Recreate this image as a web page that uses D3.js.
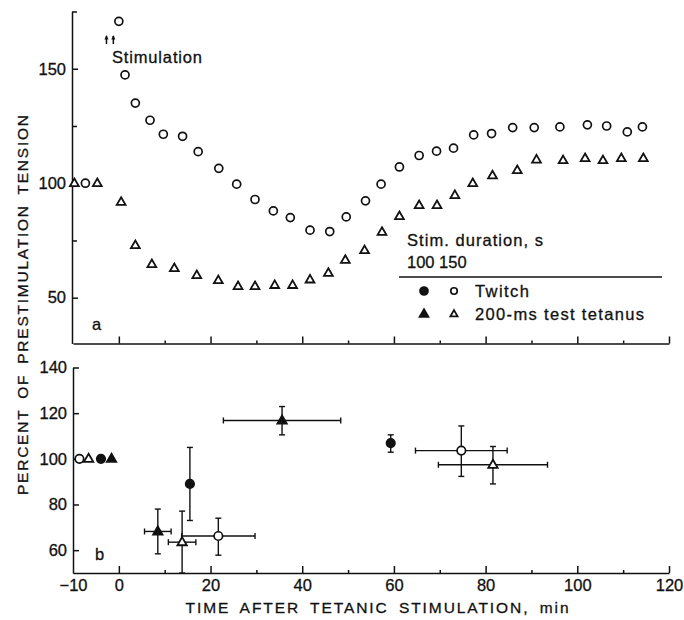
<!DOCTYPE html>
<html><head><meta charset="utf-8">
<script src="https://cdn.jsdelivr.net/npm/d3@7/dist/d3.min.js"></script>
<style>
body{margin:0;background:#fff;}
text{font-family:"Liberation Sans",Arial,sans-serif;fill:#111;stroke:#111;stroke-width:0.3;}
</style></head>
<body><svg id="c" width="684" height="620"></svg>
<script>
// ---- Data (panel a) ----
const twitchX = [-7.3,0,1.35,3.6,6.8,9.7,13.9,17.3,21.8,25.7,29.7,33.7,37.4,41.7,46,49.6,53.8,57.2,61.2,65.5,69.3,73,77.4,81.3,85.9,90.6,96.2,102.2,106.4,110.9,114.2];
const twitchY = [100,170.7,147.3,135,127.5,121.4,120.5,113.8,106.5,99.6,92.9,87.9,85,79.5,78.9,85.3,92.3,99.6,107.1,112.1,114,115.3,121.1,121.7,124.3,124.3,124.6,125.5,125,122.4,124.6];
const tetX = [-9.7,-4.7,0.5,3.6,7.2,12.1,17,21.7,26,29.7,34,37.9,41.7,45.7,49.4,53.6,57.4,61.2,65.5,69.4,73.3,77.2,81.5,86.9,91.1,96.9,101.7,105.6,109.6,114.4];
const tetY = [100,100,91.8,72.9,64.6,62.9,59.8,57.6,55,55,55.5,55.5,57.9,60.8,66.5,70.7,78.7,85.6,90.4,90.4,94.8,100,103.4,105.7,110.3,110,110.9,110,110.9,110.9];

// ---- Data (panel b) ----
const bKind = ["oc","ot","fc","ft","ft","fc","ot","oc","ft","fc","oc","ot"];
const bX    = [-8.6,-6.6,-3.9,-1.6,8.5,15.5,13.8,21.7,35.6,59.3,74.7,81.6];
const bY    = [100,100,100,100,68.2,89,63.5,66.2,116.8,106.9,103.6,97.4];
const bXerr = [0,0,0,0,2.9,0,3,8,12.8,0,10,11.9];
const bYlo  = [0,0,0,0,9.8,16,13.5,8.4,6.3,4,11.3,8.4];
const bYhi  = [0,0,0,0,9.8,16,13.6,7.8,6.1,3.6,10.8,8.0];

// ---- Ticks ----
const xMajor = [0,20,40,60,80,100,120];
const xMinor = [10,30,50,70,90,110];
const xLabels = [-10,0,20,40,60,80,100,120];
const yTopMajor = [50,100,150];
const yTopMinor = [75,125,175];
const yBotMajor = [60,80,100,120,140];

const svg = d3.select("#c");
const x = d3.scaleLinear().domain([-10,120]).range([73,669]);
const yT = d3.scaleLinear().domain([30,175]).range([343.5,11.5]);
const yB = d3.scaleLinear().domain([50,140]).range([573,367.5]);
const ink = "#111";
const FS = 16.5;

function styleAxis(g){
  g.selectAll("path.domain").attr("stroke",ink).attr("stroke-width",1.5);
  g.selectAll(".tick line").attr("stroke",ink).attr("stroke-width",1.5);
  g.selectAll(".tick text").attr("font-size",FS).attr("fill",ink).attr("font-family","Liberation Sans, Arial, sans-serif");
}

// Panel a axes
svg.append("g").attr("transform",`translate(0,${yT(30)})`)
  .call(d3.axisBottom(x).tickValues(xMajor).tickSizeInner(-7).tickSizeOuter(0).tickFormat(""))
  .call(styleAxis);
svg.append("g").attr("transform",`translate(0,${yT(30)})`)
  .call(d3.axisBottom(x).tickValues(xMinor).tickSizeInner(-3).tickSizeOuter(0).tickFormat(""))
  .call(g=>g.select(".domain").remove()).call(styleAxis);
svg.append("g").attr("transform",`translate(${x(-10)-1},0)`)
  .call(d3.axisLeft(yT).tickValues(yTopMajor).tickSizeInner(-6).tickSizeOuter(0).tickPadding(6).tickFormat(d3.format("d")))
  .call(styleAxis);
svg.append("g").attr("transform",`translate(${x(-10)-1},0)`)
  .call(d3.axisLeft(yT).tickValues(yTopMinor).tickSizeInner(-5).tickSizeOuter(0).tickFormat(""))
  .call(g=>g.select(".domain").remove()).call(styleAxis);

// Panel b axes
svg.append("g").attr("transform",`translate(0,${yB(50)})`)
  .call(d3.axisBottom(x).tickValues(xMajor).tickSizeInner(-7).tickSizeOuter(0).tickFormat(""))
  .call(styleAxis);
svg.append("g").attr("transform",`translate(0,${yB(50)})`)
  .call(d3.axisBottom(x).tickValues(xMinor).tickSizeInner(-3).tickSizeOuter(0).tickFormat(""))
  .call(g=>g.select(".domain").remove()).call(styleAxis);
svg.append("g").attr("transform",`translate(0,${yB(50)})`)
  .call(d3.axisBottom(x).tickValues(xLabels).tickSize(0).tickPadding(6).tickFormat(d3.format("d")))
  .call(g=>g.select(".domain").remove()).call(styleAxis);
svg.append("g").attr("transform",`translate(${x(-10)},0)`)
  .call(d3.axisLeft(yB).tickValues(yBotMajor).tickSizeInner(-6).tickSizeOuter(0).tickPadding(6).tickFormat(d3.format("d")))
  .call(styleAxis);

// Markers
const triPath = s => { const h = s*0.866; return `M0,${-h*0.62}L${s/2},${h*0.38}L${-s/2},${h*0.38}Z`; };
function marker(g, kind, cx, cy, size){
  const filled = kind[0]==="f";
  if(kind[1]==="c"){
    g.append("circle").attr("cx",cx).attr("cy",cy).attr("r",size/2)
      .attr("fill",filled?ink:"#fff").attr("stroke",ink).attr("stroke-width",1.7);
  } else {
    g.append("path").attr("d",triPath(size*1.1)).attr("transform",`translate(${cx},${cy})`)
      .attr("fill",filled?ink:"#fff").attr("stroke",ink).attr("stroke-width",1.8).attr("stroke-linejoin","miter");
  }
}

const gA = svg.append("g");
twitchX.forEach((d,i)=>marker(gA,"oc",x(d),yT(twitchY[i]),8));
tetX.forEach((d,i)=>marker(gA,"ot",x(d),yT(tetY[i]),8));

// Error bars panel b
const gB = svg.append("g");
const cap = 3;
bX.forEach((d,i)=>{
  const cx = x(d), cy = yB(bY[i]);
  if(bXerr[i]>0){
    const x0 = x(d-bXerr[i]), x1 = x(d+bXerr[i]);
    gB.append("line").attr("x1",x0).attr("x2",x1).attr("y1",cy).attr("y2",cy).attr("stroke",ink).attr("stroke-width",1.4);
    [x0,x1].forEach(xx=>gB.append("line").attr("x1",xx).attr("x2",xx).attr("y1",cy-cap).attr("y2",cy+cap).attr("stroke",ink).attr("stroke-width",1.4));
  }
  if(bYlo[i]>0){
    const y0 = yB(bY[i]+bYhi[i]), y1 = yB(bY[i]-bYlo[i]);
    gB.append("line").attr("x1",cx).attr("x2",cx).attr("y1",y0).attr("y2",y1).attr("stroke",ink).attr("stroke-width",1.4);
    [y0,y1].forEach(yy=>gB.append("line").attr("x1",cx-cap).attr("x2",cx+cap).attr("y1",yy).attr("y2",yy).attr("stroke",ink).attr("stroke-width",1.4));
  }
});
bX.forEach((d,i)=>marker(gB,bKind[i],x(d),yB(bY[i]),8.5));

// Stimulation annotation
const arrowsX = [x(-2.7), x(-1.2)];
arrowsX.forEach(ax=>{
  svg.append("line").attr("x1",ax).attr("x2",ax).attr("y1",36).attr("y2",44).attr("stroke",ink).attr("stroke-width",1.5);
  svg.append("path").attr("d",`M${ax-2},${39.5}L${ax},${35}L${ax+2},${39.5}Z`).attr("fill",ink);
});
svg.append("text").attr("x",112).attr("y",63).attr("font-size",FS).attr("textLength",90).attr("lengthAdjust","spacing").text("Stimulation");

// Panel letters
svg.append("text").attr("x",92).attr("y",330).attr("font-size",FS).text("a");
svg.append("text").attr("x",95).attr("y",560).attr("font-size",FS).text("b");

// Legend
svg.append("text").attr("x",407).attr("y",246).attr("font-size",FS).attr("textLength",136).attr("lengthAdjust","spacing").text("Stim. duration, s");
svg.append("text").attr("x",407).attr("y",268).attr("font-size",FS).text("100 150");
svg.append("line").attr("x1",399).attr("x2",662).attr("y1",277).attr("y2",277).attr("stroke",ink).attr("stroke-width",1.4);
const gL = svg.append("g");
marker(gL,"fc",424,291,8);
marker(gL,"oc",454,291,6.5);
svg.append("text").attr("x",475).attr("y",297).attr("font-size",FS).attr("textLength",54).attr("lengthAdjust","spacing").text("Twitch");
marker(gL,"ft",424,314,8);
marker(gL,"ot",454,314,6.5);
svg.append("text").attr("x",475).attr("y",320).attr("font-size",FS).attr("textLength",169).attr("lengthAdjust","spacing").text("200-ms test tetanus");

// Axis titles
svg.append("text").attr("transform","translate(28,305) rotate(-90)").attr("text-anchor","middle")
  .attr("font-size",15.5).attr("word-spacing",4).attr("textLength",380).attr("lengthAdjust","spacing")
  .text("PERCENT OF PRESTIMULATION TENSION");
svg.append("text").attr("x",377).attr("y",613).attr("text-anchor","middle")
  .attr("font-size",15.5).attr("word-spacing",4).attr("textLength",383).attr("lengthAdjust","spacing")
  .text("TIME AFTER TETANIC STIMULATION, min");
</script></body></html>
